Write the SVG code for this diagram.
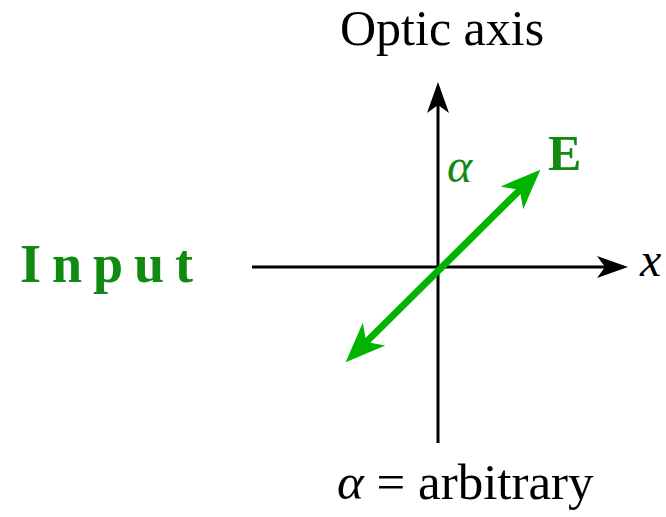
<svg xmlns="http://www.w3.org/2000/svg" xmlns:xlink="http://www.w3.org/1999/xlink" width="666" height="517" viewBox="0 0 666 517">
<style>
.t{font-family:"Liberation Serif","Times New Roman",serif;fill:#000}
.g{fill:#108a10}
.axis{stroke:#000;stroke-width:3;fill:none}
.ev{stroke:#00b400;stroke-width:7;fill:none}
</style>
<defs>
<path id="bh" d="M0,0 L-31,-11 L-23,0 L-31,11 Z" fill="#000"/>
<path id="gh" d="M0,0 L-40,-16 L-29,0 L-40,16 Z" fill="#00b400"/>
</defs>
<rect width="666" height="517" fill="#fff"/>
<g id="connectors">
<line class="axis" x1="438" y1="443" x2="438" y2="95"/>
<use xlink:href="#bh" transform="translate(438,82) rotate(-90)"/>
<line class="axis" x1="252" y1="267" x2="612" y2="267"/>
<use xlink:href="#bh" transform="translate(628,267)"/>
<g id="E-vector" transform="translate(443,266) rotate(-44.7)">
<line class="ev" x1="-110" y1="0" x2="110" y2="0"/>
<use xlink:href="#gh" transform="translate(137,0)"/>
<use xlink:href="#gh" transform="translate(-137,0) rotate(180)"/>
</g>
</g>
<g id="optic-axis-label"><text class="t" x="340" y="45" font-size="50">Optic axis</text></g>
<g id="x-label"><text class="t" x="640" y="276" font-size="48" font-style="italic">x</text></g>
<g id="E-label"><text class="t g" x="548" y="170" font-size="50" font-weight="bold">E</text></g>
<g id="alpha-label"><text class="t g" x="447" y="182" font-size="48" font-style="italic">α</text></g>
<g id="input-label"><text class="t g" x="20" y="282" font-size="54" font-weight="bold" letter-spacing="11">Input</text></g>
<g id="alpha-arbitrary"><text class="t" x="337" y="499" font-size="51"><tspan font-style="italic">α</tspan> = arbitrary</text></g>
</svg>
